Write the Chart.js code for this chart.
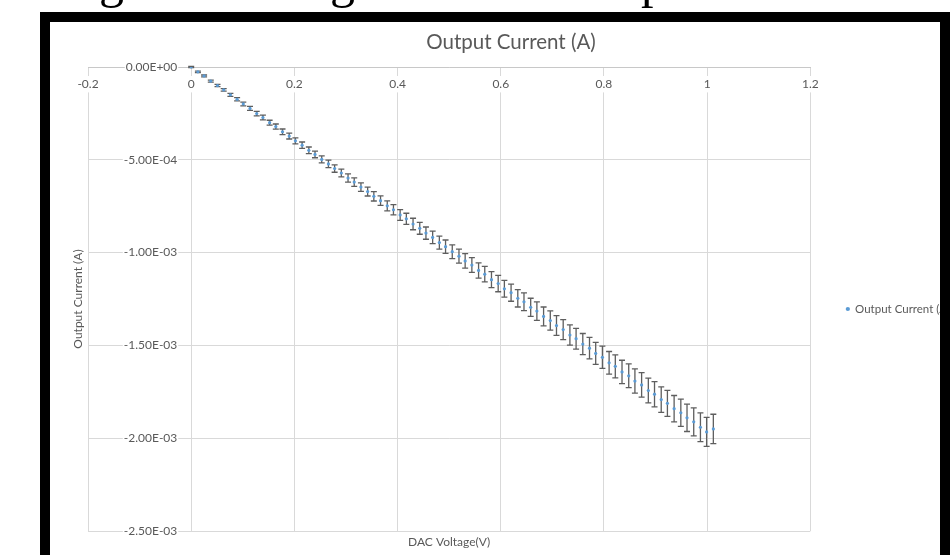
<!DOCTYPE html>
<html>
<head>
<meta charset="utf-8">
<script src="https://cdn.jsdelivr.net/npm/chart.js@4.4.0/dist/chart.umd.min.js"></script>
<style>
  html, body { margin: 0; padding: 0; background: #fff; width: 950px; height: 555px; overflow: hidden; position: relative; }
  .glyph { position: absolute; top: -45px; font: 50px 'Liberation Serif', 'DejaVu Serif', serif; line-height: 50px; color: #000; }
  .frame { position: absolute; left: 40px; top: 12px; width: 910px; height: 543px; background: #000; }
  .sheet { position: absolute; left: 50px; top: 22px; width: 890px; height: 533px; background: #fff; overflow: hidden; }
  .sheet canvas { position: absolute; left: 0; top: 0; }
</style>
</head>
<body>
<div class="glyph" style="left:99px">g</div>
<div class="glyph" style="left:330px">g</div>
<div class="glyph" style="left:641px">p</div>
<div class="frame"></div>
<div class="sheet">
  <canvas id="chart" width="930" height="533"></canvas>
</div>
<script>
// DAC voltage (V)
const xValues = [
  0.000, 0.013, 0.025, 0.038, 0.051, 0.063, 0.076, 0.089, 0.101, 0.114,
  0.127, 0.139, 0.152, 0.164, 0.177, 0.190, 0.202, 0.215, 0.228, 0.240,
  0.253, 0.266, 0.278, 0.291, 0.304, 0.316, 0.329, 0.342, 0.354, 0.367,
  0.380, 0.392, 0.405, 0.417, 0.430, 0.443, 0.455, 0.468, 0.481, 0.493,
  0.506, 0.519, 0.531, 0.544, 0.557, 0.569, 0.582, 0.595, 0.607, 0.620,
  0.633, 0.645, 0.658, 0.670, 0.683, 0.696, 0.708, 0.721, 0.734, 0.746,
  0.759, 0.772, 0.784, 0.797, 0.810, 0.822, 0.835, 0.848, 0.860, 0.873,
  0.886, 0.898, 0.911, 0.923, 0.936, 0.949, 0.961, 0.974, 0.987, 0.999,
  1.012
];

// output current (A)
const yValues = [
  0.0, -2.6e-5, -4.8e-5, -7.6e-5, -1.00e-4, -1.23e-4, -1.50e-4, -1.74e-4, -1.99e-4, -2.23e-4,
  -2.51e-4, -2.72e-4, -3.00e-4, -3.21e-4, -3.49e-4, -3.72e-4, -3.98e-4, -4.21e-4, -4.49e-4, -4.71e-4,
  -4.98e-4, -5.22e-4, -5.47e-4, -5.71e-4, -5.98e-4, -6.20e-4, -6.47e-4, -6.71e-4, -6.97e-4, -7.20e-4,
  -7.48e-4, -7.69e-4, -7.97e-4, -8.18e-4, -8.46e-4, -8.69e-4, -8.95e-4, -9.18e-4, -9.46e-4, -9.68e-4,
  -9.95e-4, -1.019e-3, -1.045e-3, -1.067e-3, -1.096e-3, -1.116e-3, -1.146e-3, -1.167e-3, -1.195e-3, -1.216e-3,
  -1.246e-3, -1.265e-3, -1.295e-3, -1.315e-3, -1.344e-3, -1.366e-3, -1.393e-3, -1.415e-3, -1.444e-3, -1.464e-3,
  -1.493e-3, -1.515e-3, -1.543e-3, -1.564e-3, -1.594e-3, -1.613e-3, -1.643e-3, -1.664e-3, -1.692e-3, -1.713e-3,
  -1.743e-3, -1.763e-3, -1.792e-3, -1.812e-3, -1.841e-3, -1.863e-3, -1.890e-3, -1.912e-3, -1.941e-3, -1.966e-3,
  -1.950e-3
];

// error bar half size (A)
const yErrors = [
  3e-6, 4e-6, 5e-6, 5e-6, 6e-6, 7e-6, 8e-6, 9e-6, 1.0e-5, 1.1e-5,
  1.2e-5, 1.3e-5, 1.3e-5, 1.4e-5, 1.5e-5, 1.6e-5, 1.6e-5, 1.7e-5, 1.8e-5, 1.8e-5,
  1.9e-5, 2.0e-5, 2.0e-5, 2.1e-5, 2.2e-5, 2.3e-5, 2.3e-5, 2.4e-5, 2.5e-5, 2.6e-5,
  2.7e-5, 2.8e-5, 2.9e-5, 3.0e-5, 3.1e-5, 3.2e-5, 3.3e-5, 3.4e-5, 3.5e-5, 3.6e-5,
  3.7e-5, 3.8e-5, 3.9e-5, 4.0e-5, 4.1e-5, 4.2e-5, 4.3e-5, 4.4e-5, 4.5e-5, 4.6e-5,
  4.7e-5, 4.8e-5, 4.9e-5, 5.0e-5, 5.1e-5, 5.2e-5, 5.3e-5, 5.4e-5, 5.5e-5, 5.6e-5,
  5.7e-5, 5.8e-5, 5.9e-5, 6.0e-5, 6.1e-5, 6.2e-5, 6.3e-5, 6.4e-5, 6.5e-5, 6.6e-5,
  6.7e-5, 6.8e-5, 6.9e-5, 7.0e-5, 7.1e-5, 7.3e-5, 7.4e-5, 7.5e-5, 7.7e-5, 7.8e-5,
  7.9e-5
];

const xTicks = [-0.2, 0, 0.2, 0.4, 0.6, 0.8, 1, 1.2];
const yTicks = [0, -0.0005, -0.001, -0.0015, -0.002, -0.0025];

const grey = '#595959';
Chart.defaults.font.family = 'Lato';
Chart.defaults.color = grey;

function sci(v) {
    const parts = v.toExponential(2).split('e');
    const e = Number(parts[1]);
    return parts[0] + 'E' + (e < 0 ? '-' : '+') + String(Math.abs(e)).padStart(2, '0');
}

// whiskers drawn under the markers
const errorBars = {
    id: 'errorBars',
    beforeDatasetsDraw(chart) {
        const ctx = chart.ctx;
        const yScale = chart.scales.y;
        const meta = chart.getDatasetMeta(0);
        ctx.save();
        ctx.strokeStyle = '#5e5e5e';
        ctx.lineWidth = 1.3;
        meta.data.forEach((pt, i) => {
            const top = yScale.getPixelForValue(yValues[i] + yErrors[i]);
            const bottom = yScale.getPixelForValue(yValues[i] - yErrors[i]);
            ctx.beginPath();
            ctx.moveTo(pt.x, top);
            ctx.lineTo(pt.x, bottom);
            ctx.moveTo(pt.x - 3, top);
            ctx.lineTo(pt.x + 3, top);
            ctx.moveTo(pt.x - 3, bottom);
            ctx.lineTo(pt.x + 3, bottom);
            ctx.stroke();
        });
        ctx.restore();
    }
};

// x title goes under the plot, not next to the axis that crosses at y = 0
const xTitle = {
    id: 'xTitle',
    afterDraw(chart) {
        const {ctx, chartArea} = chart;
        ctx.save();
        ctx.fillStyle = grey;
        ctx.font = '12px Lato';
        ctx.textAlign = 'center';
        ctx.textBaseline = 'middle';
        ctx.fillText('DAC Voltage(V)', (chartArea.left + chartArea.right) / 2, chartArea.bottom + 11);
        ctx.restore();
    }
};

new Chart(document.getElementById('chart'), {
    type: 'scatter',
    data: {
        datasets: [{
            label: 'Output Current (A)',
            data: xValues.map((x, i) => ({x: x, y: yValues[i]})),
            backgroundColor: '#5b9bd5',
            borderColor: '#5b9bd5',
            pointRadius: 1.6,
            pointBorderWidth: 0
        }]
    },
    options: {
        responsive: false,
        animation: false,
        layout: {
            padding: {left: 12, right: 20, top: 0, bottom: 24}
        },
        scales: {
            x: {
                type: 'linear',
                min: -0.2,
                max: 1.2,
                position: {y: 0},
                afterBuildTicks: s => { s.ticks = xTicks.map(v => ({value: v})); },
                grid: {color: '#d9d9d9', drawTicks: false},
                border: {color: '#c8c8c8'},
                ticks: {
                    padding: 10,
                    maxRotation: 0,
                    font: {size: 12},
                    showLabelBackdrop: true,
                    backdropColor: '#ffffff',
                    backdropPadding: 1,
                    callback: v => String(Math.round(v * 10) / 10)
                }
            },
            y: {
                type: 'linear',
                min: -0.0025,
                max: 0,
                // labels end a little left of the x = 0 line
                position: {x: -0.027},
                afterBuildTicks: s => { s.ticks = yTicks.map(v => ({value: v})); },
                grid: {color: '#d9d9d9', drawTicks: false},
                border: {display: false},
                ticks: {
                    font: {size: 12},
                    showLabelBackdrop: true,
                    backdropColor: '#ffffff',
                    backdropPadding: 1,
                    callback: v => sci(v)
                }
            }
        },
        plugins: {
            title: {
                display: true,
                text: 'Output Current (A)',
                color: grey,
                font: {size: 20.5, weight: 'normal'},
                padding: {top: 8, bottom: 12.4}
            },
            subtitle: {
                display: true,
                position: 'left',
                fullSize: false,
                text: 'Output Current (A)',
                color: grey,
                font: {size: 12},
                padding: {top: 8.8, bottom: 2.8}
            },
            legend: {
                position: 'right',
                fullSize: false,
                // empty title only pushes the entry a bit lower
                title: {display: true, text: '', font: {size: 12}, padding: {top: 0, bottom: 5.6}},
                labels: {
                    usePointStyle: true,
                    pointStyle: 'circle',
                    boxWidth: 3,
                    boxHeight: 3,
                    padding: 36,
                    font: {size: 11.5}
                }
            },
            tooltip: {enabled: false}
        }
    },
    plugins: [errorBars, xTitle]
});
</script>
</body>
</html>
